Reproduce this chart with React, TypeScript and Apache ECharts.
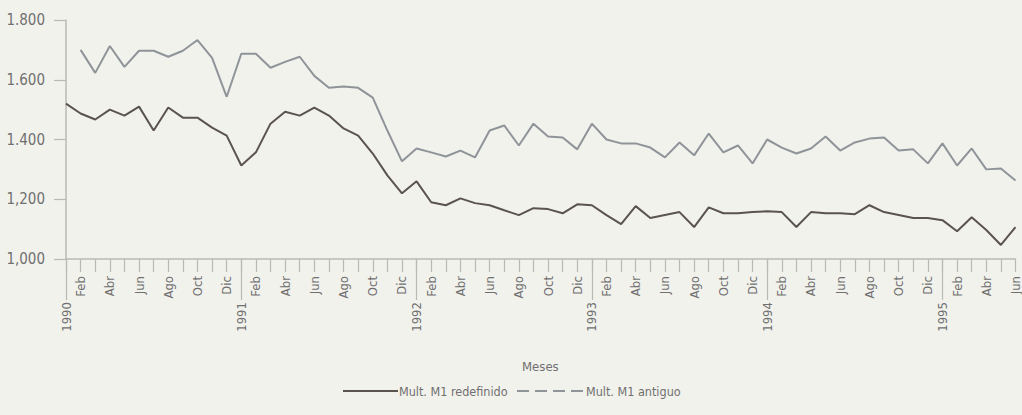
import React, { useEffect, useRef } from "react";
import * as echarts from "echarts";

const years = [1990, 1991, 1992, 1993, 1994, 1995];
const monthNames = ["Ene", "Feb", "Mar", "Abr", "May", "Jun", "Jul", "Ago", "Sep", "Oct", "Nov", "Dic"];
const lastMonthsIn1995 = 6;

const yTickLabels: Record<number, string> = {
  1000: "1,000",
  1200: "1,200",
  1400: "1.400",
  1600: "1.600",
  1800: "1.800",
};

// Mult. M1 redefinido (dark line)
const m1Redefinido = [
  1520, 1487, 1467, 1500, 1480, 1510, 1430, 1507, 1473, 1473, 1440, 1413,
  1313, 1357, 1453, 1493, 1480, 1507, 1480, 1437, 1413, 1353, 1280, 1220,
  1260, 1190, 1180, 1203, 1187, 1180, 1163, 1147, 1170, 1167, 1153, 1183,
  1180, 1147, 1117, 1177, 1137, 1147, 1157, 1107, 1173, 1153, 1153, 1157,
  1160, 1157, 1107, 1157, 1153, 1153, 1150, 1180, 1157, 1147, 1137, 1137,
  1130, 1093, 1140, 1097, 1047, 1107,
];

// Mult. M1 antiguo (light line)
const m1Antiguo = [
  null, 1700, 1623, 1713, 1643, 1697, 1697, 1677, 1697, 1733, 1673, 1543,
  1687, 1687, 1640, 1660, 1677, 1613, 1573, 1577, 1573, 1540, 1430, 1327,
  1370, 1357, 1343, 1363, 1340, 1430, 1447, 1380, 1453, 1410, 1407, 1367,
  1453, 1400, 1387, 1387, 1373, 1340, 1390, 1347, 1420, 1357, 1380, 1320,
  1400, 1373, 1353, 1370, 1410, 1363, 1390, 1403, 1407, 1363, 1367, 1320,
  1387, 1313, 1370, 1300, 1303, 1263,
];

const categories: string[] = [];
years.forEach((y) => {
  const n = y === 1995 ? lastMonthsIn1995 : 12;
  for (let m = 0; m < n; m++) categories.push(monthNames[m] + " " + y);
});

const FONT = "'Liberation Sans Narrow', 'DejaVu Sans Condensed', 'Roboto Condensed', 'Liberation Sans', sans-serif";
const DARK = "#5a5350";
const LIGHT = "#8f9499";
const AXIS = "#b9b9b6";
const TEXT = "#707070";
const BG = "#f2f2ed";

export default function App() {
  const ref = useRef<HTMLDivElement>(null);

  useEffect(() => {
    document.body.style.margin = "0";
    document.body.style.background = BG;
    const chart = echarts.init(ref.current!, null, { renderer: "svg" });
    chart.setOption({
      animation: false,
      backgroundColor: BG,
      grid: { left: 66, right: 3, top: 20, bottom: 156, containLabel: false },
      xAxis: [
        {
          type: "category",
          data: categories,
          boundaryGap: false,
          position: "bottom",
          axisLine: { show: true, lineStyle: { color: AXIS, width: 1.5 } },
          axisTick: { show: true, interval: 0, length: 13, lineStyle: { color: AXIS, width: 1.2 } },
          axisLabel: {
            interval: (i: number) => i % 2 === 1,
            rotate: 90,
            margin: 17,
            color: TEXT,
            fontFamily: FONT,
            fontSize: 13,
            formatter: (v: string) => v.split(" ")[0],
          },
          splitLine: { show: false },
        },
        {
          type: "category",
          data: categories,
          boundaryGap: false,
          position: "bottom",
          offset: 0,
          axisLine: { show: false },
          axisTick: {
            show: true,
            interval: (i: number) => i % 12 === 0,
            length: 41,
            lineStyle: { color: AXIS, width: 1.2 },
          },
          axisLabel: {
            interval: (i: number) => i % 12 === 0,
            rotate: 90,
            margin: 43,
            color: TEXT,
            fontFamily: FONT,
            fontSize: 13,
            formatter: (v: string) => v.split(" ")[1],
          },
          splitLine: { show: false },
        },
      ],
      yAxis: {
        type: "value",
        min: 1000,
        max: 1800,
        interval: 200,
        axisLine: { show: true, lineStyle: { color: AXIS, width: 1.5 } },
        axisTick: { show: true, length: 12, lineStyle: { color: AXIS, width: 1.2 } },
        axisLabel: {
          margin: 21,
          color: TEXT,
          fontFamily: FONT,
          fontSize: 15,
          formatter: (v: number) => yTickLabels[v] ?? String(v),
        },
        splitLine: { show: false },
      },
      series: [
        {
          name: "Mult. M1 redefinido",
          type: "line",
          xAxisIndex: 0,
          data: m1Redefinido,
          showSymbol: false,
          symbol: "none",
          lineStyle: { color: DARK, width: 2 },
          itemStyle: { color: DARK },
        },
        {
          name: "Mult. M1 antiguo",
          type: "line",
          xAxisIndex: 0,
          data: m1Antiguo,
          showSymbol: false,
          symbol: "none",
          lineStyle: { color: LIGHT, width: 2 },
          itemStyle: { color: LIGHT },
        },
      ],
      graphic: [
        {
          type: "text",
          left: 522,
          top: 360,
          style: { text: "Meses", fill: TEXT, font: "13px " + FONT },
        },
        {
          type: "line",
          shape: { x1: 343, y1: 391, x2: 398, y2: 391 },
          style: { stroke: DARK, lineWidth: 1.8 },
        },
        {
          type: "text",
          x: 399,
          y: 391,
          style: { text: "Mult. M1 redefinido", fill: TEXT, font: "12.5px " + FONT, verticalAlign: "middle" },
        },
        {
          type: "line",
          shape: { x1: 517, y1: 391, x2: 583, y2: 391 },
          style: { stroke: LIGHT, lineWidth: 1.8, lineDash: [12, 6] },
        },
        {
          type: "text",
          x: 586,
          y: 391,
          style: { text: "Mult. M1 antiguo", fill: TEXT, font: "12.5px " + FONT, verticalAlign: "middle" },
        },
      ],
    });
    return () => chart.dispose();
  }, []);

  return (
    <div
      ref={ref}
      style={{ position: "absolute", left: 0, top: 0, width: 1022, height: 415, background: BG }}
    />
  );
}
